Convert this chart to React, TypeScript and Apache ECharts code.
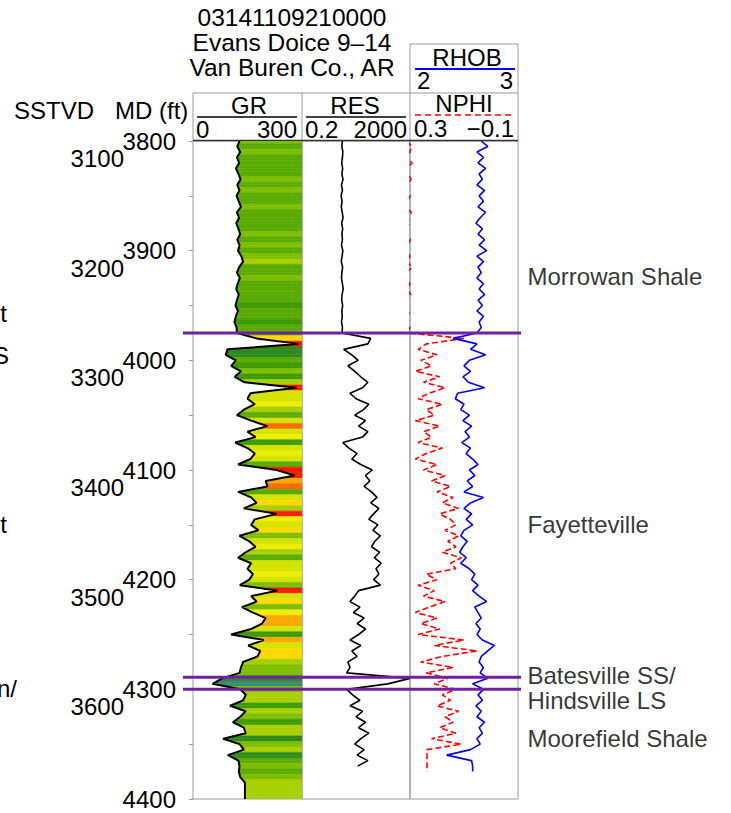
import React, { useEffect, useRef } from 'react';
import * as echarts from 'echarts';

const FONT = '"Liberation Sans", Arial, Helvetica, sans-serif';

const TITLE_LINES = ['03141109210000', 'Evans Doice 9\u201314', 'Van Buren Co., AR'];

const DEPTH_START = 3800;
const DEPTH_STEP = 5;
const MD_MIN = 3800;
const MD_MAX = 4400;
const SSTVD_OFFSET = 716;
const SSTVD_LABELS = [3100, 3200, 3300, 3400, 3500, 3600];

const GR_MIN = 0;
const GR_MAX = 300;
const RES_MIN = 0.2;
const RES_MAX = 2000;
const NPHI_LEFT = 0.3;
const NPHI_RIGHT = -0.1;
const RHOB_LEFT = 2;
const RHOB_RIGHT = 3;

// Gamma ray (API), every 5 ft from 3800
const GR = [
  128, 122, 130, 121, 127, 118, 125, 131, 122, 128,
  120, 126, 132, 121, 127, 119, 125, 130, 122, 128,
  124, 133, 138, 127, 121, 129, 123, 119, 126, 121,
  117, 124, 118, 114, 120, 121, 175, 290, 95, 90,
  118, 105, 132, 115, 142, 285, 158, 150, 170, 140,
  121, 160, 205, 150, 172, 116, 150, 170, 158, 124,
  230, 280, 200, 205, 124, 160, 175, 140, 230, 170,
  160, 180, 128, 155, 172, 145, 124, 160, 150, 165,
  155, 129, 232, 160, 175, 135, 165, 200, 190, 160,
  105, 195, 152, 185, 178, 138, 132, 128, 80, 54,
  130, 145, 138, 102, 145, 130, 110, 140, 145, 83,
  128, 140, 96, 125, 128, 126, 130, 143, 143, 143,
  143,
];

// Resistivity (ohm-m), every 5 ft from 3800
const RES = [
  6.2, 6.0, 6.5, 6.3, 5.9, 6.4, 6.0, 6.6, 5.8, 6.3,
  5.6, 6.1, 5.7, 6.2, 6.6, 5.9, 6.4, 6.0, 6.3, 5.8,
  6.5, 6.1, 5.7, 6.4, 6.0, 5.8, 6.3, 6.7, 6.1, 5.9,
  6.4, 6.0, 6.2, 5.8, 6.3, 6.1, 70, 55, 7, 14,
  24, 10, 18, 30, 55, 35, 12, 20, 60, 38,
  18, 45, 25, 55, 35, 6.5, 11, 22, 14, 30,
  80, 45, 65, 40, 75, 120, 70, 140, 90, 60,
  130, 85, 160, 100, 75, 150, 95, 170, 110, 140,
  90, 160, 25, 18, 12, 28, 16, 40, 22, 45,
  25, 12, 30, 14, 22, 10, 12, 9, 2000, 300,
  9, 15, 28, 12, 35, 20, 45, 25, 60, 30,
  18, 40, 22, 55, 23,
];

// Neutron porosity (v/v), every 5 ft from 3800
const NPHI = [
  0.31, 0.295, 0.30, 0.32, 0.292, 0.31, 0.305, 0.296, 0.31, 0.33,
  0.298, 0.31, 0.32, 0.295, 0.31, 0.30, 0.32, 0.31, 0.298, 0.31,
  0.32, 0.30, 0.31, 0.293, 0.31, 0.32, 0.30, 0.31, 0.297, 0.31,
  0.32, 0.30, 0.31, 0.32, 0.30, 0.31, 0.10, 0.24, 0.27, 0.20,
  0.26, 0.22, 0.28, 0.19, 0.25, 0.17, 0.23, 0.27, 0.18, 0.24,
  0.21, 0.28, 0.19, 0.25, 0.22, 0.27, 0.18, 0.24, 0.28, 0.20,
  0.25, 0.17, 0.22, 0.15, 0.20, 0.14, 0.18, 0.12, 0.19, 0.15,
  0.13, 0.17, 0.12, 0.16, 0.13, 0.18, 0.11, 0.15, 0.13, 0.24,
  0.20, 0.27, 0.21, 0.25, 0.17, 0.23, 0.28, 0.20, 0.26, 0.19,
  0.27, 0.10, 0.21, 0.05, 0.18, 0.26, 0.14, 0.24, 0.16, 0.21,
  0.13, 0.18, 0.15, 0.20, 0.12, 0.17, 0.14, 0.19, 0.13, 0.22,
  0.11, 0.237, 0.237, 0.237, 0.237, 0.237,
];

// Bulk density (g/cc), every 5 ft from 3800
const RHOB = [
  2.66, 2.72, 2.62, 2.68, 2.63, 2.70, 2.64, 2.67, 2.62, 2.69,
  2.64, 2.68, 2.63, 2.70, 2.65, 2.61, 2.67, 2.63, 2.69, 2.64,
  2.71, 2.62, 2.68, 2.63, 2.66, 2.62, 2.68, 2.64, 2.69, 2.63,
  2.67, 2.62, 2.68, 2.64, 2.66, 2.62, 2.40, 2.62, 2.56, 2.70,
  2.55, 2.50, 2.56, 2.49, 2.54, 2.69, 2.44, 2.42, 2.50, 2.47,
  2.55, 2.49, 2.57, 2.51, 2.55, 2.48, 2.56, 2.52, 2.58, 2.63,
  2.55, 2.60, 2.53, 2.58, 2.50, 2.68, 2.56, 2.50, 2.57, 2.52,
  2.58, 2.50, 2.47, 2.53, 2.49, 2.46, 2.52, 2.47, 2.55, 2.60,
  2.57, 2.63, 2.58, 2.64, 2.71, 2.60, 2.63, 2.66, 2.61, 2.65,
  2.62, 2.67, 2.78, 2.72, 2.66, 2.64, 2.68, 2.65, 2.72, 2.58,
  2.68, 2.63, 2.67, 2.61, 2.66, 2.62, 2.69, 2.64, 2.67, 2.62,
  2.65, 2.56, 2.34, 2.57, 2.58, 2.58,
];

const TOPS = [3975, 4289, 4300];
const FORMATIONS = ['Morrowan Shale', 'Fayetteville', 'Batesville SS/\nHindsville LS', 'Moorefield Shale'];
const FORMATION_LABEL_DEPTHS = [3924, 4150, 4299, 4345];
const LEFT_CUT_LABELS = ['t', 'S', 't', 'n/'];
const LEFT_CUT_DEPTHS = [3957, 3996, 4150, 4299];

const GR_COLOR_STOPS = [70, 100, 118, 128, 138, 150, 162, 175, 190, 205, 225];
const GR_COLORS = ['#3a8c6e', '#2e8b1e', '#3d9a00', '#5aab00', '#7dbf00', '#a8d000', '#d4e400', '#eeee00', '#ffd800', '#ffa800', '#ff6a00', '#ff1a00'];

function grColor(v: number) {
  for (let i = 0; i < GR_COLOR_STOPS.length; i++) {
    if (v < GR_COLOR_STOPS[i]) return GR_COLORS[i];
  }
  return GR_COLORS[GR_COLORS.length - 1];
}

const depthAt = (i: number) => DEPTH_START + i * DEPTH_STEP;

function curve(values: number[]) {
  return values.map((v, i) => [v, depthAt(i)]);
}

export default function App() {
  const ref = useRef<HTMLDivElement>(null);
  useEffect(() => {
    const chart = echarts.init(ref.current as HTMLDivElement, null, { renderer: 'svg' });

    const top = 141;
    const height = 658;

    const fillData: number[][] = [];
    for (let i = 0; i < GR.length - 1; i++) {
      fillData.push([GR[i], depthAt(i), GR[i + 1], depthAt(i + 1)]);
    }

    const txt = (text: string, x: number, y: number, align = 'left', size = 24) => ({
      type: 'text',
      x,
      y,
      silent: true,
      style: { text, fontSize: size, fontFamily: FONT, fill: '#000', align, verticalAlign: 'middle' },
    });
    const ln = (x1: number, y1: number, x2: number, y2: number, stroke: string, lineWidth = 1, lineDash?: number[]) => ({
      type: 'line',
      silent: true,
      shape: { x1, y1, x2, y2 },
      style: { stroke, lineWidth, lineDash },
    });

    const graphics: any[] = [
      txt(TITLE_LINES[0], 292, 17, 'center', 24.5),
      txt(TITLE_LINES[1], 292, 42, 'center', 24.5),
      txt(TITLE_LINES[2], 292, 67, 'center', 24.5),
      txt('SSTVD', 14, 110),
      txt('MD (ft)', 115, 110),
      // header frame
      ln(193, 93, 518, 93, '#999'),
      ln(193, 93, 193, 141, '#999'),
      ln(302, 93, 302, 141, '#999'),
      ln(410, 44, 410, 141, '#999'),
      ln(518, 44, 518, 141, '#999'),
      ln(410, 44, 518, 44, '#999'),
      ln(193, 140.5, 518, 140.5, '#333', 1.5),
      // GR header
      txt('GR', 249, 105, 'center'),
      ln(197, 117, 297, 117, '#000', 1.5),
      txt(String(GR_MIN), 196, 129, 'left'),
      txt(String(GR_MAX), 297, 129, 'right'),
      // RES header
      txt('RES', 355, 105, 'center'),
      ln(306, 117, 406, 117, '#000', 1.5),
      txt(String(RES_MIN), 305, 129, 'left'),
      txt(String(RES_MAX), 407, 129, 'right'),
      // RHOB header
      txt('RHOB', 467, 57, 'center'),
      ln(415, 69, 515, 69, '#0000ff', 2),
      txt(String(RHOB_LEFT), 417, 80, 'left'),
      txt(String(RHOB_RIGHT), 513, 80, 'right'),
      // NPHI header
      txt('NPHI', 464, 103, 'center'),
      ln(415, 115, 515, 115, '#ff0000', 1.5, [6, 4]),
      txt(String(NPHI_LEFT), 414, 128, 'left'),
      txt('\u22120.1', 514, 128, 'right'),
    ];

    const option: any = {
      animation: false,
      backgroundColor: '#fff',
      textStyle: { fontFamily: FONT },
      grid: [
        { left: 193, top, width: 109, height, show: true, borderColor: '#999', borderWidth: 1, backgroundColor: 'transparent' },
        { left: 302, top, width: 108, height, show: true, borderColor: '#999', borderWidth: 1, backgroundColor: 'transparent' },
        { left: 410, top, width: 108, height, show: true, borderColor: '#999', borderWidth: 1, backgroundColor: 'transparent' },
        { left: 183, top, width: 338, height, show: false },
      ],
      xAxis: [
        { type: 'value', gridIndex: 0, min: GR_MIN, max: GR_MAX, show: false },
        { type: 'log', gridIndex: 1, min: RES_MIN, max: RES_MAX, logBase: 10, show: false },
        { type: 'value', gridIndex: 2, min: NPHI_RIGHT, max: NPHI_LEFT, inverse: true, show: false },
        { type: 'value', gridIndex: 2, min: RHOB_LEFT, max: RHOB_RIGHT, show: false },
        { type: 'value', gridIndex: 3, min: 0, max: 1, show: false },
      ],
      yAxis: [
        {
          type: 'value', gridIndex: 0, min: MD_MIN, max: MD_MAX, interval: 50, inverse: true,
          offset: 6,
          axisLine: { show: false },
          axisTick: { show: true, length: 4, lineStyle: { color: '#999' } },
          splitLine: { show: false },
          axisLabel: {
            margin: 11, fontSize: 24, color: '#000', fontFamily: FONT,
            formatter: (v: number) => (v % 100 === 0 ? String(v) : ''),
          },
        },
        {
          type: 'value', gridIndex: 0, min: MD_MIN - SSTVD_OFFSET, max: MD_MAX - SSTVD_OFFSET, inverse: true,
          position: 'left', offset: 61,
          axisLine: { show: false },
          axisTick: { show: false },
          splitLine: { show: false },
          axisLabel: {
            margin: 8, fontSize: 24, color: '#000', fontFamily: FONT, customValues: SSTVD_LABELS,
            formatter: (v: number) => String(v),
          },
        },
        { type: 'value', gridIndex: 1, min: MD_MIN, max: MD_MAX, inverse: true, show: false },
        { type: 'value', gridIndex: 2, min: MD_MIN, max: MD_MAX, inverse: true, show: false },
        { type: 'value', gridIndex: 3, min: MD_MIN, max: MD_MAX, inverse: true, show: false },
      ],
      graphic: { elements: graphics },
      series: [
        {
          type: 'custom',
          name: 'GR fill',
          xAxisIndex: 0,
          yAxisIndex: 0,
          silent: true,
          clip: true,
          encode: { x: [0, 2], y: [1, 3] },
          data: fillData,
          renderItem: (params: any, api: any) => {
            const g0 = api.value(0), d0 = api.value(1), g1 = api.value(2), d1 = api.value(3);
            const gm = (g0 + g1) / 2, dm = (d0 + d1) / 2;
            const p0 = api.coord([g0, d0]);
            const pm = api.coord([gm, dm]);
            const p1 = api.coord([g1, d1]);
            const r0 = api.coord([GR_MAX, d0]);
            const rm = api.coord([GR_MAX, dm]);
            const r1 = api.coord([GR_MAX, d1]);
            const c0 = grColor(g0), c1 = grColor(g1);
            return {
              type: 'group',
              children: [
                { type: 'polygon', shape: { points: [p0, pm, rm, r0] }, style: { fill: c0, stroke: c0, lineWidth: 0.6 } },
                { type: 'polygon', shape: { points: [pm, p1, r1, rm] }, style: { fill: c1, stroke: c1, lineWidth: 0.6 } },
              ],
            };
          },
        },
        {
          type: 'line', name: 'GR', xAxisIndex: 0, yAxisIndex: 0, data: curve(GR),
          symbol: 'none', lineStyle: { color: '#000', width: 2 }, silent: true,
        },
        {
          type: 'line', name: 'RES', xAxisIndex: 1, yAxisIndex: 2, data: curve(RES),
          symbol: 'none', lineStyle: { color: '#000', width: 1.6 }, silent: true,
        },
        {
          type: 'line', name: 'NPHI', xAxisIndex: 2, yAxisIndex: 3, data: curve(NPHI),
          symbol: 'none', lineStyle: { color: '#ff0000', width: 1.6, type: [6, 3] }, silent: true,
        },
        {
          type: 'line', name: 'RHOB', xAxisIndex: 3, yAxisIndex: 3, data: curve(RHOB),
          symbol: 'none', lineStyle: { color: '#0000ff', width: 1.6 }, silent: true,
        },
        ...TOPS.map((d) => ({
          type: 'line', xAxisIndex: 4, yAxisIndex: 4, data: [[0, d], [1, d]],
          symbol: 'none', lineStyle: { color: '#7020a0', width: 3 }, silent: true, z: 5,
        })),
        {
          type: 'scatter', xAxisIndex: 4, yAxisIndex: 4, symbolSize: 1, silent: true,
          itemStyle: { color: 'rgba(0,0,0,0)' },
          data: FORMATIONS.map((name, i) => ({ name, value: [1, FORMATION_LABEL_DEPTHS[i]] })),
          label: {
            show: true, position: 'right', distance: 6, formatter: '{b}',
            fontSize: 24, lineHeight: 25, color: '#000', fontFamily: FONT,
          },
        },
      ],
    };
    chart.setOption(option);
    // cut-off labels of the adjoining panel, placed by the depth scale
    const extra = LEFT_CUT_LABELS.map((t, i) => {
      const p = chart.convertToPixel({ gridIndex: 3 } as any, [0, LEFT_CUT_DEPTHS[i]]) as number[];
      return txt(t, t === 'n/' ? 17 : t === 'S' ? 9 : 7, p[1], 'right');
    });
    chart.setOption({ graphic: { elements: [...graphics, ...extra] } });
    return () => chart.dispose();
  }, []);
  return <div ref={ref} style={{ position: 'absolute', left: 0, top: 0, width: 731, height: 813, background: '#fff' }} />;
}
